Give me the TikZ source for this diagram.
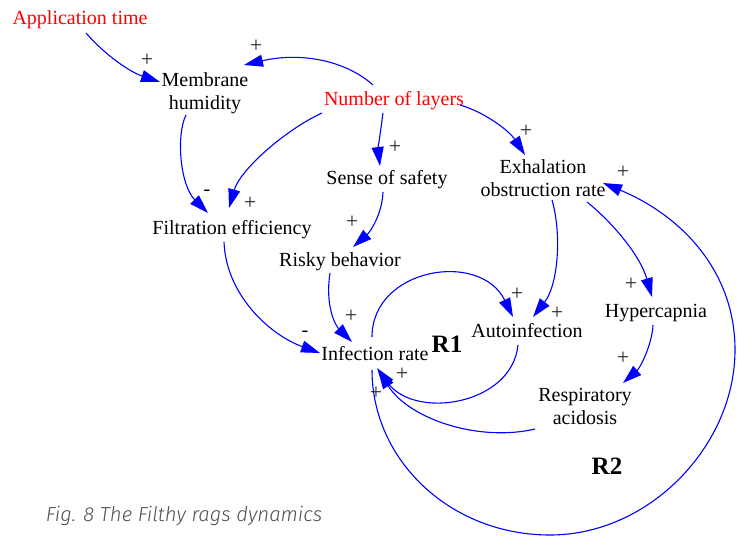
\documentclass[tikz,border=0pt]{standalone}
\usepackage{fontspec}
\setmainfont{Liberation Serif}
\newfontfamily\capfont{Fira Sans}[ItalicFont={Fira Sans Light Italic}]
\usetikzlibrary{arrows.meta}
\definecolor{cblue}{RGB}{0,0,255}
\definecolor{cred}{RGB}{255,0,0}
\definecolor{sgncol}{RGB}{40,40,40}
\definecolor{capcol}{RGB}{80,80,80}
\tikzset{
  var/.style={font=\fontsize{20}{23}\selectfont, inner sep=0pt, align=center, text=black},
  exo/.style={var, text=cred},
  link/.style={draw=cblue, line width=1.1pt, -{Triangle[length=19pt,width=12pt]}},
  sgn/.style={font=\fontsize{22}{22}\selectfont, text=sgncol, inner sep=0pt},
  neg/.style={font=\fontsize{20}{20}\selectfont, text=black, inner sep=0pt},
  loopl/.style={font=\bfseries\fontsize{25}{25}\selectfont, inner sep=0pt},
}
\begin{document}
\begin{tikzpicture}[x=1pt,y=-1pt]
\useasboundingbox (0,0) rectangle (738,537);
% variables
\node[exo] (app) at (80,20) {Application time};
\node[var] (mem) at (205,93) {Membrane\\humidity};
\node[exo] (nl) at (394,101) {Number of layers};
\node[var] (sos) at (387,180) {Sense of safety};
\node[var] (exh) at (543,178) {Exhalation\\obstruction rate};
\node[var] (fil) at (232,230) {Filtration efficiency};
\node[var] (risk) at (340,262) {Risky behavior};
\node[var] (inf) at (375,354) {Infection rate};
\node[var] (auto) at (527,331) {Autoinfection};
\node[var] (hyp) at (656,313) {Hypercapnia};
\node[var] (resp) at (585,406) {Respiratory\\acidosis};
\node[loopl] (r1) at (447,344) {R1};
\node[loopl] (r2) at (607,466) {R2};
\node[font=\capfont\itshape\fontsize{20.3}{20.3}\selectfont, text=capcol, inner sep=0pt] (cap) at (184,516) {Fig. 8 The Filthy rags dynamics};
% links
\draw[link] ([shift={(6,13)}]app.center) .. controls (105,55) and (130,72) .. ([shift={(-45,-11)}]mem.center);
\draw[link] ([shift={(-21,-16)}]nl.center) .. controls (345,60) and (300,52) .. ([shift={(39,-28)}]mem.center);
\draw[link] ([shift={(-19,22)}]mem.center) .. controls (176,135) and (180,185) .. ([shift={(-24,-17)}]fil.center);
\draw[link] ([shift={(-72,12)}]nl.center) .. controls (285,130) and (240,170) .. ([shift={(-3,-22)}]fil.center);
\draw[link] ([shift={(-11,12)}]nl.center) .. controls (380,135) and (378,150) .. ([shift={(-7,-14)}]sos.center);
\draw[link] ([shift={(66,4)}]nl.center) .. controls (487,113) and (510,132) .. ([shift={(-18,-23)}]exh.center);
\draw[link] ([shift={(-4,12)}]sos.center) .. controls (382,215) and (370,232) .. ([shift={(13,-15)}]risk.center);
\draw[link] ([shift={(-8,12)}]fil.center) .. controls (226,295) and (270,335) .. ([shift={(-55,-1)}]inf.center);
\draw[link] ([shift={(-10,11)}]risk.center) .. controls (325,305) and (335,325) .. ([shift={(-23,-12)}]inf.center);
\draw[link] ([shift={(-3,-17)}]inf.center) .. controls (372,268) and (480,250) .. ([shift={(-14,-14)}]auto.center);
\draw[link] ([shift={(9,22)}]exh.center) .. controls (562,235) and (558,285) .. ([shift={(6,-14)}]auto.center);
\draw[link] ([shift={(44,24)}]exh.center) .. controls (612,222) and (640,255) .. ([shift={(-4,-16)}]hyp.center);
\draw[link] ([shift={(-3,12)}]hyp.center) .. controls (652,345) and (640,368) .. ([shift={(38,-23)}]resp.center);
\draw[link] ([shift={(-9,14)}]auto.center) .. controls (512,405) and (415,420) .. ([shift={(2,14)}]inf.center);
\draw[link] ([shift={(-50,23)}]resp.center) .. controls (480,442) and (410,420) .. ([shift={(3,16)}]inf.center);
\draw[link] ([shift={(-3,16)}]inf.center) .. controls (372,460) and (450,535) .. (550,535)
   .. controls (650,535) and (735,445) .. (735,350)
   .. controls (735,270) and (680,215) .. ([shift={(60,5)}]exh.center);
% polarities
\node[sgn] (p1) at (147,60) {+};
\node[sgn] (p2) at (256,46) {+};
\node[neg] (p3) at (207,193) {-};
\node[sgn] (p4) at (250,203) {+};
\node[sgn] (p5) at (395,147) {+};
\node[sgn] (p6) at (526,131) {+};
\node[sgn] (p7) at (352,222) {+};
\node[neg] (p8) at (305,334) {-};
\node[sgn] (p9) at (351,316) {+};
\node[sgn] (p10) at (517,294) {+};
\node[sgn] (p11) at (557,313) {+};
\node[sgn] (p12) at (631,284) {+};
\node[sgn] (p13) at (623,358) {+};
\node[sgn] (p14) at (623,172) {+};
\node[sgn] (p15) at (402,374) {+};
\node[sgn] (p16) at (376,393) {+};
\end{tikzpicture}
\end{document}
